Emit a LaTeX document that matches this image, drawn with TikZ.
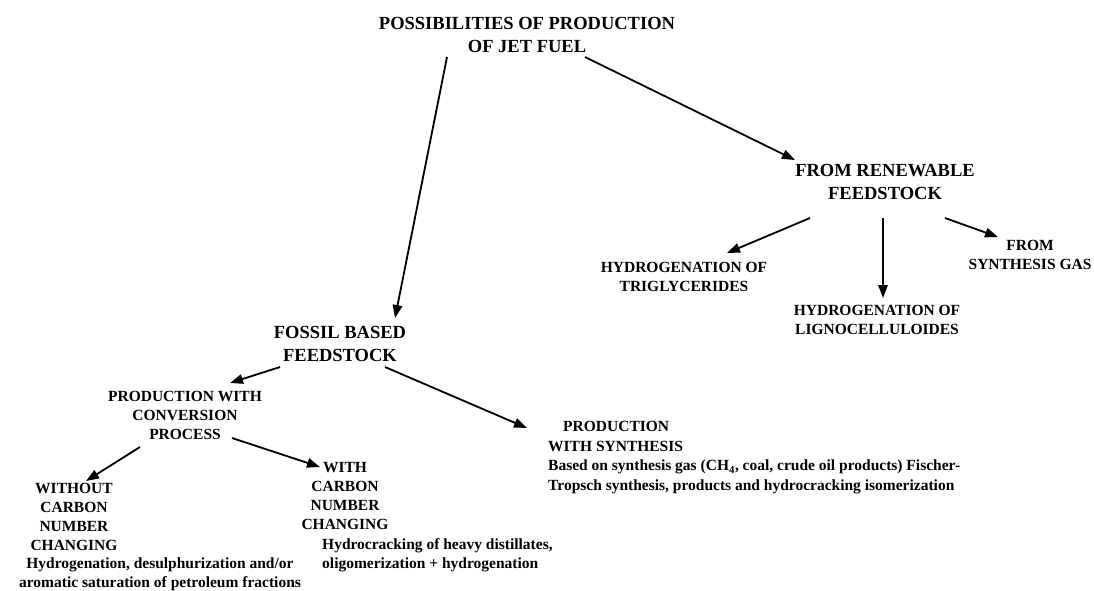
\documentclass[tikz,border=0pt]{standalone}
\usepackage{fontspec}
\setmainfont{Liberation Serif}
\usetikzlibrary{arrows.meta}
\begin{document}
\begin{tikzpicture}[x=1pt,y=1pt,
    head/.style={inner sep=0pt,align=center,font=\fontsize{18.5}{23}\selectfont\bfseries},
    item/.style={inner sep=0pt,align=center,font=\fontsize{15.5}{19}\selectfont\bfseries},
    arr/.style={line width=1.8pt,-{Triangle[length=13pt,width=9.5pt]}}]
      \useasboundingbox (0,0) rectangle (1094,-590);
      % main branches
      \node[head] (title) at (527,-35) {POSSIBILITIES OF PRODUCTION\\OF JET FUEL};
      \node[head] (renew) at (885,-181.5) {FROM RENEWABLE\\FEEDSTOCK};
      \node[head] (fossil) at (340,-343.5) {FOSSIL BASED\\FEEDSTOCK};
      % renewable side
      \node[item] (trig) at (684,-277) {HYDROGENATION OF\\TRIGLYCERIDES};
      \node[item] (lign) at (877,-320) {HYDROGENATION OF\\LIGNOCELLULOIDES};
      \node[item] (syngas) at (1030,-254.5) {FROM\\SYNTHESIS GAS};
      % fossil side
      \node[item] (conv) at (185,-415) {PRODUCTION WITH\\CONVERSION\\PROCESS};
      \node[item,align=left,anchor=west,font=\fontsize{15.5}{19.8}\selectfont\bfseries] (synth) at (548,-457.5)
        {\hspace*{15pt}PRODUCTION\\WITH SYNTHESIS\\Based on synthesis gas (CH\textsubscript{4}, coal, crude oil products) Fischer-\\Tropsch synthesis, products and hydrocracking isomerization};
      \node[item] (without) at (74,-517) {WITHOUT\\CARBON\\NUMBER\\CHANGING};
      \node[item] (wodesc) at (160,-574) {Hydrogenation, desulphurization and/or\\aromatic saturation of petroleum fractions};
      \node[item] (with) at (345,-495.5) {WITH\\CARBON\\NUMBER\\CHANGING};
      \node[item,align=left,anchor=west] (wdesc) at (322,-555.5) {Hydrocracking of heavy distillates,\\oligomerization + hydrogenation};
      % arrows
      \draw[arr] ([shift={(-80,-22)}]title.center) -- ([shift={(55,25.5)}]fossil.center);
      \draw[arr] ([shift={(58,-22)}]title.center) -- ([shift={(-90,21.5)}]renew.center);
      \draw[arr] ([shift={(-75,-36.5)}]renew.center) -- ([shift={(43,24)}]trig.center);
      \draw[arr] ([shift={(-2,-36.5)}]renew.center) -- ([shift={(6,22)}]lign.center);
      \draw[arr] ([shift={(60,-36.5)}]renew.center) -- ([shift={(-32,17.5)}]syngas.center);
      \draw[arr] ([shift={(-60,-23.5)}]fossil.center) -- ([shift={(45,32)}]conv.center);
      \draw[arr] ([shift={(45,-23.5)}]fossil.center) -- ([shift={(-21,29.5)}]synth.west);
      \draw[arr] ([shift={(-45,-32)}]conv.center) -- ([shift={(12,36)}]without.center);
      \draw[arr] ([shift={(47,-23)}]conv.center) -- ([shift={(-25,28.5)}]with.center);
\end{tikzpicture}
\end{document}
